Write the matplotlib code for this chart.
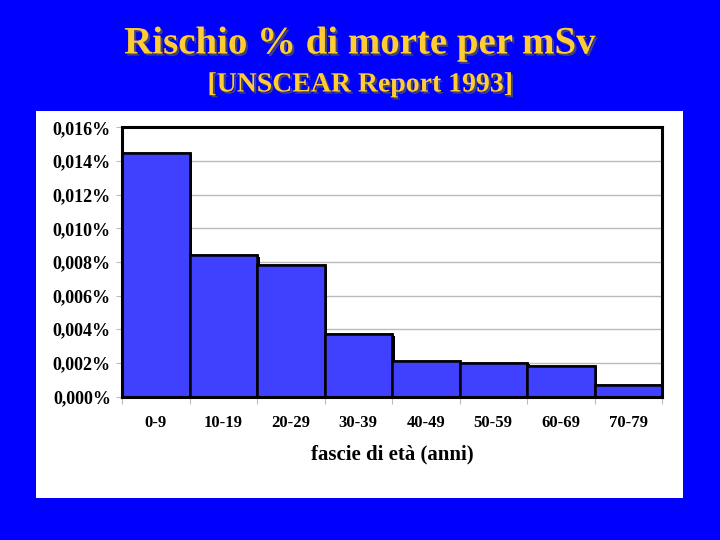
import matplotlib.pyplot as plt
import matplotlib.patheffects as pe
from matplotlib.patches import Rectangle
import numpy as np

# data (risk % per mSv by age band)
age_groups = ["0-9", "10-19", "20-29", "30-39", "40-49", "50-59", "60-69", "70-79"]
risk_pct = [0.0145, 0.0084, 0.0078, 0.0037, 0.0021, 0.0020, 0.0018, 0.0007]
y_ticks = [0.0, 0.002, 0.004, 0.006, 0.008, 0.010, 0.012, 0.014, 0.016]
y_labels = ["0,000%", "0,002%", "0,004%", "0,006%", "0,008%",
            "0,010%", "0,012%", "0,014%", "0,016%"]

serif = ["Liberation Serif", "DejaVu Serif"]
blue_bg = "#0000FF"
bar_col = "#4040FF"
gold = "#FFCC33"

fig = plt.figure(figsize=(7.2, 5.4), dpi=100, facecolor=blue_bg)

# white panel behind the chart
fig.patches.append(Rectangle((36 / 720, 1 - 498 / 540), (683 - 36) / 720, (498 - 111) / 540,
                             transform=fig.transFigure, facecolor="white",
                             edgecolor="none", zorder=-1))

t1 = fig.text(0.5, 1 - 44 / 540, "Rischio % di morte per mSv", ha="center", va="center",
              fontsize=28, fontweight="bold", family=serif, color=gold)
t2 = fig.text(0.5, 1 - 85 / 540, "[UNSCEAR Report 1993]", ha="center", va="center",
              fontsize=20, fontweight="bold", family=serif, color=gold)
for t in (t1, t2):
    t.set_path_effects([pe.withSimplePatchShadow(offset=(1.5, -1.5), shadow_rgbFace="#555555", alpha=0.8)])

ax = fig.add_axes([122 / 720, 1 - 396.5 / 540, 540 / 720, (396.5 - 127.3) / 540])
ax.set_zorder(2)
ax.set_facecolor("white")

x = np.arange(len(age_groups))
bars = ax.bar(x, risk_pct, width=1.0, align="edge", color=bar_col,
              edgecolor="black", linewidth=1.8, zorder=3)
for b in bars:
    b.set_path_effects([pe.withSimplePatchShadow(offset=(2, -1), shadow_rgbFace="black", alpha=1.0),
                        pe.Normal()])

ax.set_xlim(0, len(age_groups))
ax.set_ylim(0, 0.016)
ax.set_yticks(y_ticks)
ax.set_yticklabels(y_labels, family=serif, fontweight="bold", fontsize=13)
ax.yaxis.grid(True, color="#BBBBBB", linewidth=1, zorder=0)
ax.set_axisbelow(True)

ax.set_xticks(np.arange(len(age_groups) + 1))
ax.set_xticklabels([])
ax.set_xticks(x + 0.5, minor=True)
ax.set_xticklabels(age_groups, minor=True, family=serif, fontweight="bold", fontsize=12)
ax.tick_params(axis="x", which="major", length=5, color="#BBBBBB")
ax.tick_params(axis="x", which="minor", length=0, pad=13)
ax.tick_params(axis="y", length=4, color="#BBBBBB", pad=4)

ax.set_xlabel("fascie di età (anni)", family=serif, fontweight="bold", fontsize=15, labelpad=10)

for s in ax.spines.values():
    s.set_color("black")
    s.set_linewidth(2.2)
    s.set_zorder(4)

fig.savefig("out.png", dpi=100, facecolor=blue_bg)
